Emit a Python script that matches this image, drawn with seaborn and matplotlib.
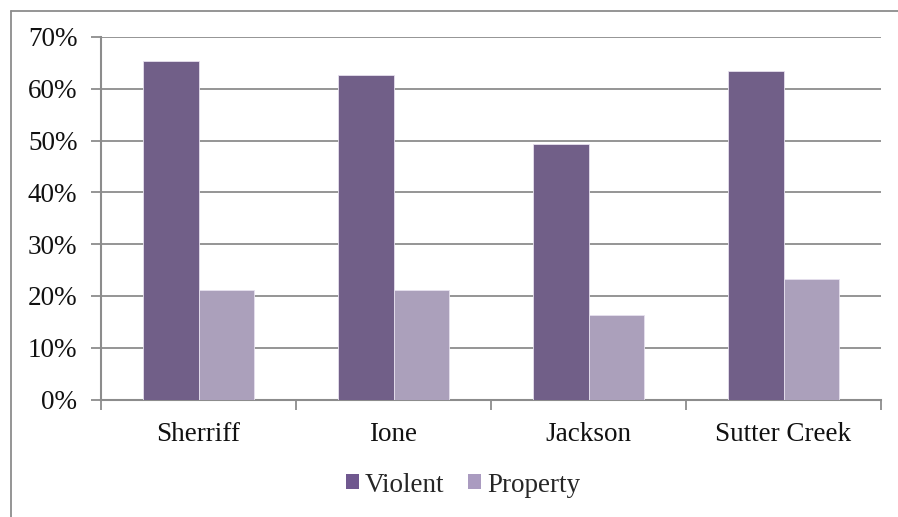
import matplotlib
matplotlib.use("Agg")
import matplotlib.pyplot as plt
import seaborn as sns
import pandas as pd
import numpy as np
from matplotlib.lines import Line2D
from matplotlib.patches import Patch
from matplotlib.ticker import FuncFormatter, FixedLocator

categories = ["Sherriff", "Ione", "Jackson", "Sutter Creek"]
violent = [65.3, 62.6, 49.3, 63.4]
property_ = [21.1, 21.2, 16.3, 23.2]
series = ["Violent", "Property"]
colors = ["#70588F", "#AA9BC0"]
yticks = [0, 10, 20, 30, 40, 50, 60, 70]

df = pd.DataFrame({
    "Agency": categories * 2,
    "Series": ["Violent"] * len(categories) + ["Property"] * len(categories),
    "Value": violent + property_,
})

sns.set_theme(style="white")
plt.rcParams["font.family"] = ["Liberation Serif", "DejaVu Serif"]
FS = 19.5

W, H = 898, 517
fig = plt.figure(figsize=(W / 100, H / 100), dpi=100)
ax = fig.add_axes([101 / W, (H - 399.5) / H, (881 - 101) / W, (399.5 - 37) / H])

sns.barplot(data=df, x="Agency", y="Value", hue="Series", hue_order=series,
            order=categories, palette=colors, width=0.57, ax=ax,
            edgecolor="#E6E0EE", linewidth=0.6, legend=False, zorder=3)

ax.set_xlim(-0.5, len(categories) - 0.5)
ax.set_ylim(0, 70)
ax.set_yticks(yticks)
ax.yaxis.set_major_formatter(FuncFormatter(lambda v, p: f"{int(v)}%"))
ax.yaxis.grid(True, color="#8C8C8C", linewidth=1.3, zorder=0)
ax.set_axisbelow(True)
ax.set_xlabel("")
ax.set_ylabel("")

ax.set_xticks(range(len(categories)))
ax.set_xticklabels(categories)
ax.xaxis.set_minor_locator(FixedLocator(np.arange(-0.5, len(categories), 1.0)))
ax.tick_params(axis="x", which="major", length=0, pad=16, labelsize=FS, colors="#111111")
ax.tick_params(axis="x", which="minor", length=7, width=1.3, color="#8C8C8C", bottom=True)
ax.tick_params(axis="y", which="major", length=7, width=1.3, color="#8C8C8C", left=True,
               labelsize=FS, pad=10, labelcolor="#111111")

for s in ["top", "right"]:
    ax.spines[s].set_visible(False)
for s in ["left", "bottom"]:
    ax.spines[s].set_color("#8C8C8C")
    ax.spines[s].set_linewidth(1.5)

# outer chart frame
fig.add_artist(Line2D([10.5 / W, 1.0], [1 - 10.5 / H, 1 - 10.5 / H], transform=fig.transFigure,
                      color="#8C8C8C", linewidth=1.3))
fig.add_artist(Line2D([10.5 / W, 10.5 / W], [0, 1 - 10.5 / H], transform=fig.transFigure,
                      color="#8C8C8C", linewidth=1.3))

handles = [Patch(facecolor=c, edgecolor="none", label=l) for c, l in zip(colors, series)]
fig.legend(handles=handles, loc="center", bbox_to_anchor=(463 / W, 1 - 485 / H), ncol=2,
           frameon=False, fontsize=FS, handlelength=0.48, handleheight=0.48,
           handletextpad=0.22, columnspacing=0.9)

fig.savefig("out.png", dpi=100, facecolor="white")
